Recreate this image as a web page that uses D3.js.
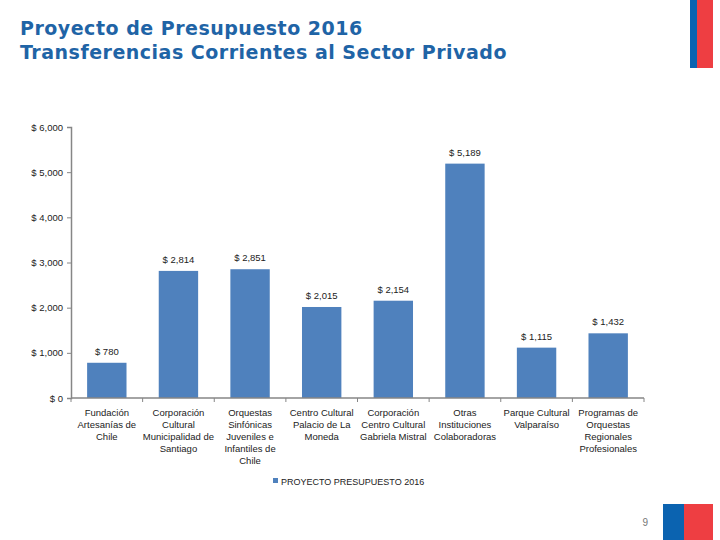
<!DOCTYPE html>
<html>
<head>
<meta charset="utf-8">
<script src="https://cdn.jsdelivr.net/npm/d3@7"></script>
<style>
  body { margin: 0; background: #fff; }
  svg { display: block; }
</style>
</head>
<body>
<div id="chart"></div>
<script>
const categories = [
  ["Fundación", "Artesanías de", "Chile"],
  ["Corporación", "Cultural", "Municipalidad de", "Santiago"],
  ["Orquestas", "Sinfónicas", "Juveniles e", "Infantiles de", "Chile"],
  ["Centro Cultural", "Palacio de La", "Moneda"],
  ["Corporación", "Centro Cultural", "Gabriela Mistral"],
  ["Otras", "Instituciones", "Colaboradoras"],
  ["Parque Cultural", "Valparaíso"],
  ["Programas de", "Orquestas", "Regionales", "Profesionales"]
];
const values = [780, 2814, 2851, 2015, 2154, 5189, 1115, 1432];
const yTicks = [0, 1000, 2000, 3000, 4000, 5000, 6000];
const seriesName = "PROYECTO PRESUPUESTO 2016";

const W = 720, H = 540;
const svg = d3.select("#chart").append("svg")
  .attr("width", W)
  .attr("height", H);

const fmt = d3.format(",");
const labelFont = "Liberation Sans, Arial, sans-serif";

// Title
const title = svg.append("text")
  .attr("x", 20)
  .attr("fill", "#1f64a6")
  .style("font-family", "DejaVu Sans, Verdana, sans-serif")
  .style("font-weight", "bold")
  .style("font-size", "19px")
  .style("letter-spacing", "0.5px");
title.append("tspan").attr("x", 20).attr("y", 35).text("Proyecto de Presupuesto 2016");
title.append("tspan").attr("x", 20).attr("y", 59).text("Transferencias Corrientes al Sector Privado");

// Flags (decoration)
svg.append("rect").attr("x", 690).attr("y", 0).attr("width", 7).attr("height", 68).attr("fill", "#0b63b0");
svg.append("rect").attr("x", 697).attr("y", 0).attr("width", 16).attr("height", 68).attr("fill", "#ee3e42");
svg.append("rect").attr("x", 663).attr("y", 504).attr("width", 21).attr("height", 36).attr("fill", "#0b63b0");
svg.append("rect").attr("x", 684).attr("y", 504).attr("width", 29).attr("height", 36).attr("fill", "#ee3e42");

svg.append("text")
  .attr("x", 648).attr("y", 526)
  .attr("text-anchor", "end")
  .attr("fill", "#777")
  .style("font-family", labelFont)
  .style("font-size", "10px")
  .text("9");

// Plot area
const x0 = 71, x1 = 644, yTop = 127, yBot = 398;

const x = d3.scaleBand()
  .domain(d3.range(values.length))
  .range([x0, x1])
  .paddingInner(0.45)
  .paddingOuter(0.225);

const y = d3.scaleLinear()
  .domain([0, 6000])
  .range([yBot, yTop]);

// Bars
svg.selectAll(".bar")
  .data(values)
  .enter().append("rect")
  .attr("class", "bar")
  .attr("x", (d, i) => x(i))
  .attr("y", d => y(d))
  .attr("width", x.bandwidth())
  .attr("height", d => yBot - y(d))
  .attr("fill", "#4f81bd");

// Value labels
svg.selectAll(".val")
  .data(values)
  .enter().append("text")
  .attr("class", "val")
  .attr("x", (d, i) => x(i) + x.bandwidth() / 2)
  .attr("y", d => y(d) - 8)
  .attr("text-anchor", "middle")
  .attr("fill", "#222")
  .style("font-family", labelFont)
  .style("font-size", "9.5px")
  .text(d => "$ " + fmt(d));

// Y axis
const yAxis = svg.append("g")
  .attr("transform", `translate(${x0},0)`)
  .call(d3.axisLeft(y).tickValues(yTicks).tickSize(4).tickFormat(d => "$ " + fmt(d)));
yAxis.select(".domain").attr("stroke", "#868686").attr("stroke-width", 1.5);
yAxis.selectAll(".tick line").attr("stroke", "#868686");
yAxis.selectAll(".tick text")
  .attr("x", -8)
  .attr("fill", "#222")
  .style("font-family", labelFont)
  .style("font-size", "9.5px");

// X axis
const step = x.step();
const xAxis = svg.append("g").attr("transform", `translate(0,${yBot})`);
xAxis.append("line")
  .attr("x1", x0).attr("x2", x1)
  .attr("stroke", "#868686").attr("stroke-width", 1.5);
xAxis.selectAll(".xtick")
  .data(d3.range(values.length + 1))
  .enter().append("line")
  .attr("class", "xtick")
  .attr("x1", i => x0 + i * step)
  .attr("x2", i => x0 + i * step)
  .attr("y1", 0).attr("y2", 4)
  .attr("stroke", "#868686");

// Category labels
const cat = svg.selectAll(".cat")
  .data(categories)
  .enter().append("text")
  .attr("class", "cat")
  .attr("text-anchor", "middle")
  .attr("fill", "#222")
  .style("font-family", labelFont)
  .style("font-size", "9.5px");
cat.selectAll("tspan")
  .data((d, i) => d.map(t => ({ t, i })))
  .enter().append("tspan")
  .attr("x", d => x(d.i) + x.bandwidth() / 2)
  .attr("y", (d, j) => 416 + j * 12)
  .text(d => d.t);

// Legend
svg.append("rect")
  .attr("x", 273).attr("y", 478)
  .attr("width", 5).attr("height", 5)
  .attr("fill", "#4f81bd");
svg.append("text")
  .attr("x", 281).attr("y", 485)
  .attr("fill", "#222")
  .style("font-family", labelFont)
  .style("font-size", "9px")
  .text(seriesName);
</script>
</body>
</html>
